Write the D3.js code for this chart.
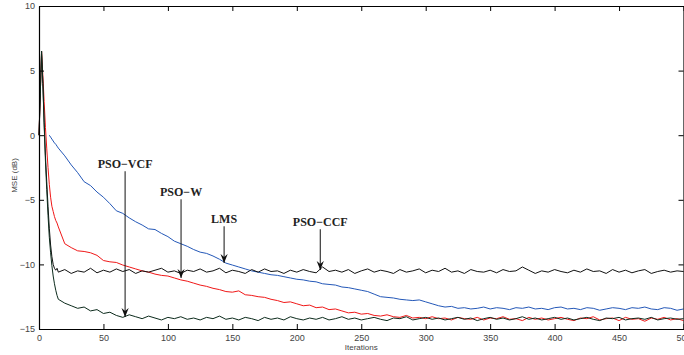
<!DOCTYPE html>
<html>
<head>
<meta charset="utf-8">
<script src="https://cdn.jsdelivr.net/npm/d3@7"></script>
<style>
  body { margin: 0; background: #fff; }
  svg { display: block; }
  .tick text { font-family: "Liberation Sans", Arial, sans-serif; font-size: 9px; fill: #444; }
</style>
</head>
<body>
<svg id="chart"></svg>
<script>
// iterations (x) shared by every series
const iterations = [0,1,2,3,4,5,6,7,8,9,10,11,12,13,14,15,
  20,25,30,35,40,45,50,55,60,65,70,75,80,85,90,95,100,105,110,115,120,125,130,135,140,145,150,
  155,160,165,170,175,180,185,190,195,200,205,210,215,220,225,230,235,240,245,250,255,260,265,
  270,275,280,285,290,295,300,305,310,315,320,325,330,335,340,345,350,355,360,365,370,375,380,
  385,390,395,400,405,410,415,420,425,430,435,440,445,450,455,460,465,470,475,480,485,490,495,500];

// MSE (dB) series
const msePsoCcf = [0,3.2,6.5,4.0,1.0,-1.6,-3.6,-5.5,-7.2,-8.5,-9.4,-10.0,-10.3,-10.45,-10.3,-10.6,
  -10.4,-10.7,-10.5,-10.6,-10.3,-10.65,-10.45,-10.6,-10.35,-10.55,-10.4,-10.7,-10.5,-10.6,-10.45,-10.3,-10.6,-10.5,-10.7,-10.45,-10.55,-10.35,-10.6,-10.5,-10.3,-10.65,-10.45,
  -10.55,-10.7,-10.4,-10.6,-10.35,-10.55,-10.5,-10.7,-10.45,-10.6,-10.4,-10.55,-10.65,-10.2,-10.55,-10.45,-10.6,-10.4,-10.7,-10.5,-10.35,-10.6,-10.45,
  -10.55,-10.7,-10.4,-10.6,-10.5,-10.35,-10.65,-10.45,-10.55,-10.3,-10.6,-10.5,-10.7,-10.4,-10.55,-10.6,-10.45,-10.65,-10.4,-10.55,-10.5,-10.2,-10.45,
  -10.7,-10.5,-10.6,-10.4,-10.55,-10.65,-10.45,-10.6,-10.35,-10.55,-10.5,-10.7,-10.4,-10.6,-10.45,-10.65,-10.5,-10.4,-10.7,-10.55,-10.45,-10.6,-10.5,-10.55];

const msePsoVcf = [0,3.2,6.5,4.0,0.8,-2.0,-4.2,-6.2,-7.9,-9.1,-10.1,-10.9,-11.5,-12.0,-12.4,-12.7,
  -13.0,-13.2,-13.4,-13.3,-13.6,-13.5,-13.8,-13.7,-13.95,-14.1,-13.9,-14.05,-14.2,-14.0,-14.15,-14.3,-14.1,-14.2,-14.05,-14.25,-14.15,-14.3,-14.1,-14.2,-14.0,-14.25,-14.15,
  -14.3,-14.1,-14.2,-14.35,-14.1,-14.25,-14.15,-14.3,-14.05,-14.2,-14.3,-14.15,-14.25,-14.1,-14.3,-14.2,-14.05,-14.25,-14.15,-14.3,-14.2,-14.1,-14.25,
  -14.35,-14.15,-14.2,-14.05,-14.3,-14.2,-14.1,-14.25,-14.15,-14.3,-14.2,-14.1,-14.25,-14.15,-14.35,-14.2,-14.1,-14.25,-14.15,-14.3,-14.2,-14.05,-14.25,
  -14.15,-14.3,-14.2,-14.1,-14.25,-14.15,-14.3,-14.2,-14.1,-14.25,-14.35,-14.15,-14.2,-14.1,-14.3,-14.2,-14.15,-14.25,-14.1,-14.3,-14.2,-14.15,-14.25,-14.2];

const msePsoW = [0,3.2,6.5,4.6,2.6,0.6,-1.0,-2.5,-3.8,-4.8,-5.5,-5.9,-6.3,-6.6,-6.8,-7.1,
  -8.4,-8.7,-8.95,-9.0,-9.1,-9.3,-9.7,-9.8,-9.85,-10.05,-10.2,-10.35,-10.5,-10.6,-10.75,-10.85,-10.9,-11.05,-11.2,-11.3,-11.45,-11.6,-11.7,-11.85,-11.95,-12.1,-12.15,
  -12.05,-12.35,-12.4,-12.5,-12.55,-12.7,-12.8,-12.95,-12.9,-13.05,-13.2,-13.15,-13.35,-13.3,-13.5,-13.45,-13.6,-13.75,-13.7,-13.85,-13.8,-13.95,-14.0,
  -13.9,-14.05,-14.1,-13.95,-14.15,-14.1,-14.2,-14.05,-14.2,-14.15,-14.3,-14.1,-14.2,-14.25,-14.1,-14.3,-14.15,-14.2,-14.05,-14.25,-14.2,-14.35,-14.1,
  -14.25,-14.15,-14.3,-14.2,-14.1,-14.25,-14.35,-14.15,-14.2,-14.05,-14.3,-14.2,-14.15,-14.35,-14.1,-14.25,-14.2,-14.4,-14.15,-14.25,-14.1,-14.3,-14.2,-14.35];

const mseLms = [null,null,null,null,null,null,null,null,0,-0.15,-0.3,-0.45,-0.6,-0.7,-0.85,-1.0,
  -1.6,-2.3,-2.9,-3.6,-3.9,-4.4,-4.8,-5.3,-5.85,-6.05,-6.4,-6.7,-6.95,-7.25,-7.3,-7.6,-7.85,-8.2,-8.4,-8.6,-8.85,-9.05,-9.15,-9.35,-9.6,-9.9,-10.05,
  -10.2,-10.35,-10.5,-10.6,-10.7,-10.8,-10.85,-10.95,-11.05,-11.15,-11.2,-11.3,-11.35,-11.5,-11.55,-11.6,-11.75,-11.8,-11.9,-12.0,-12.1,-12.3,-12.5,
  -12.55,-12.6,-12.7,-12.75,-12.8,-12.75,-12.9,-13.05,-13.2,-13.3,-13.25,-13.4,-13.35,-13.45,-13.4,-13.3,-13.45,-13.35,-13.4,-13.5,-13.35,-13.4,-13.3,
  -13.45,-13.4,-13.5,-13.35,-13.3,-13.45,-13.4,-13.5,-13.35,-13.4,-13.55,-13.45,-13.35,-13.4,-13.5,-13.35,-13.4,-13.3,-13.45,-13.5,-13.35,-13.4,-13.55,-13.45];

// annotation labels with arrows
const annLabels = ["PSO\u2212VCF", "PSO\u2212W", "LMS", "PSO\u2212CCF"];
const annIter = [66.8, 110.2, 143.6, 218.2];
const annTextY = [-2.54, -4.71, -6.8, -7.03];
const annTipY = [-14.07, -11.05, -9.89, -10.43];

const xTicks = [0,50,100,150,200,250,300,350,400,450,500];
const yTicks = [-15,-10,-5,0,5,10];

const width = 684, height = 355;
const svg = d3.select("#chart").attr("width", width).attr("height", height);

const x = d3.scaleLinear().domain([0, 500]).range([39, 683.5]);
const y = d3.scaleLinear().domain([-15, 10]).range([329, 6]);

const series = [
  { values: mseLms, color: "#2458b8" },
  { values: msePsoW, color: "#f01818" },
  { values: msePsoCcf, color: "#111111" },
  { values: msePsoVcf, color: "#0c2b1c" }
];

const line = d3.line()
  .defined(d => d[1] !== null)
  .x(d => x(d[0]))
  .y(d => y(d[1]));

svg.append("g")
  .selectAll("path")
  .data(series)
  .enter()
  .append("path")
  .attr("fill", "none")
  .attr("stroke", d => d.color)
  .attr("stroke-width", 1)
  .attr("stroke-linejoin", "round")
  .attr("d", d => line(iterations.map((it, i) => [it, d.values[i]])));

// axes, ticks pointing inward on all four sides
const tickLen = 5;
const axB = svg.append("g").attr("transform", `translate(0,${y(-15)})`)
  .call(d3.axisBottom(x).tickValues(xTicks).tickSizeInner(-tickLen).tickSizeOuter(0).tickPadding(6));
const axT = svg.append("g").attr("transform", `translate(0,${y(10)})`)
  .call(d3.axisTop(x).tickValues(xTicks).tickSizeInner(-tickLen).tickSizeOuter(0).tickFormat(""));
const axL = svg.append("g").attr("transform", `translate(${x(0)},0)`)
  .call(d3.axisLeft(y).tickValues(yTicks).tickSizeInner(-tickLen).tickSizeOuter(0).tickPadding(4));
const axR = svg.append("g").attr("transform", `translate(${x(500)},0)`)
  .call(d3.axisRight(y).tickValues(yTicks).tickSizeInner(-tickLen).tickSizeOuter(0).tickFormat(""));

[axB, axT, axL, axR].forEach(a => {
  a.selectAll(".domain").attr("stroke", "#000").attr("stroke-width", 1.2);
  a.selectAll(".tick line").attr("stroke", "#000");
});

svg.append("text")
  .attr("x", (x(0) + x(500)) / 2)
  .attr("y", 350)
  .attr("text-anchor", "middle")
  .attr("font-family", "Liberation Sans, Arial, sans-serif")
  .attr("font-size", 8)
  .attr("fill", "#444")
  .text("Iterations");

svg.append("text")
  .attr("transform", `translate(17,${(y(-15) + y(10)) / 2 + 8}) rotate(-90)`)
  .attr("text-anchor", "middle")
  .attr("font-family", "Liberation Sans, Arial, sans-serif")
  .attr("font-size", 8)
  .attr("fill", "#444")
  .text("MSE (dB)");

// arrow heads
svg.append("defs").append("marker")
  .attr("id", "head")
  .attr("viewBox", "-9 -4 10 8")
  .attr("markerWidth", 10)
  .attr("markerHeight", 8)
  .attr("markerUnits", "userSpaceOnUse")
  .attr("refX", 0)
  .attr("refY", 0)
  .attr("orient", "auto")
  .append("path")
  .attr("d", "M0,0 L-9,-3.6 L-6,0 L-9,3.6 Z")
  .attr("fill", "#111");

const ann = svg.append("g");
annLabels.forEach((lab, i) => {
  ann.append("text")
    .attr("x", x(annIter[i]))
    .attr("y", y(annTextY[i]))
    .attr("text-anchor", "middle")
    .attr("font-family", "Liberation Serif, Times New Roman, serif")
    .attr("font-weight", "bold")
    .attr("font-size", 12)
    .attr("fill", "#222")
    .text(lab);
  ann.append("line")
    .attr("x1", x(annIter[i]))
    .attr("x2", x(annIter[i]))
    .attr("y1", y(annTextY[i] - 0.25))
    .attr("y2", y(annTipY[i]))
    .attr("stroke", "#111")
    .attr("stroke-width", 1)
    .attr("marker-end", "url(#head)");
});
</script>
</body>
</html>
